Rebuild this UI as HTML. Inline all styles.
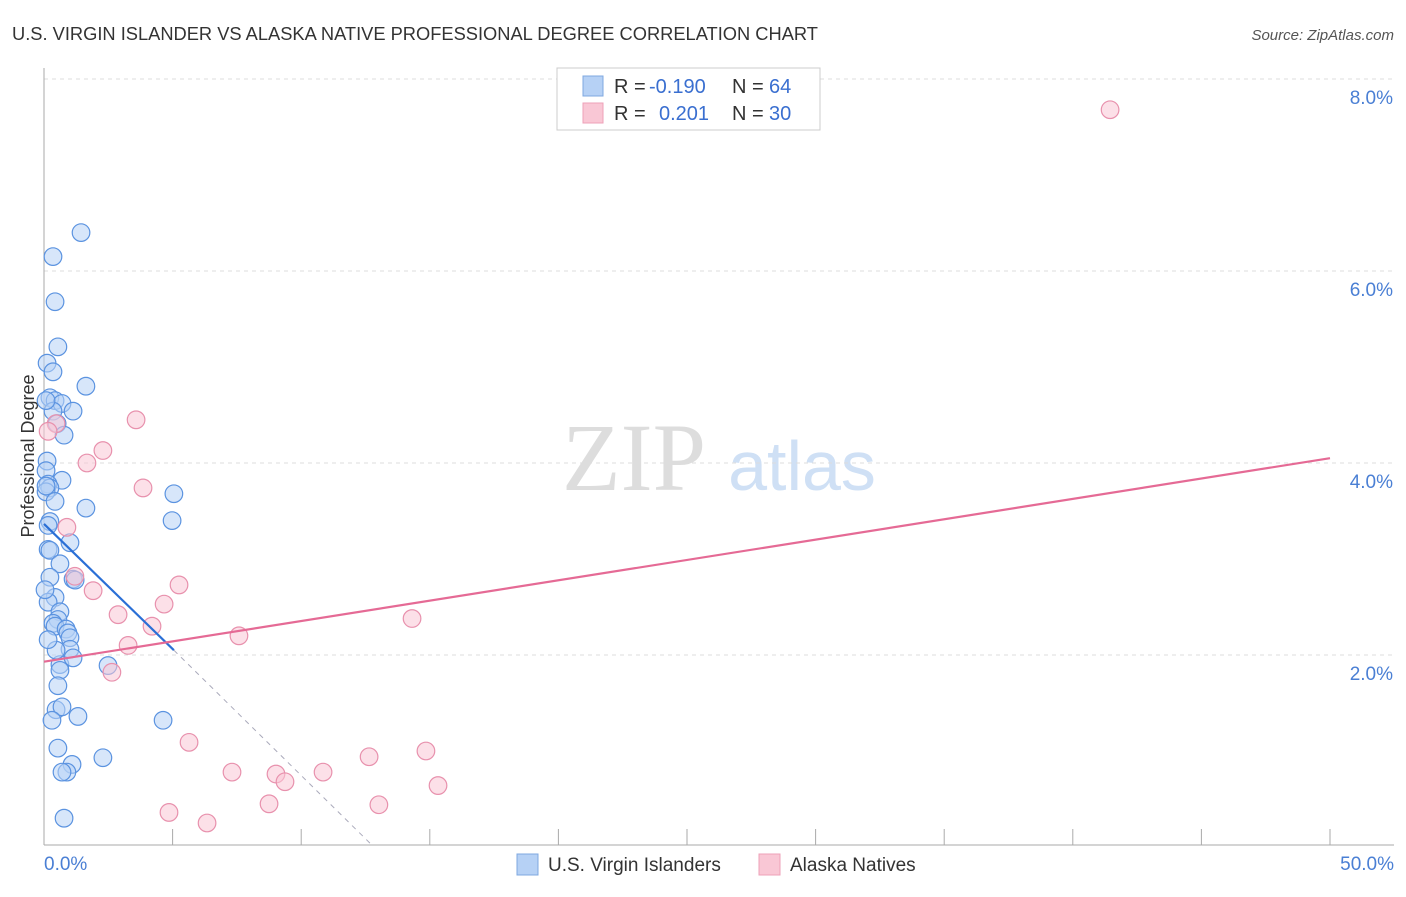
<!DOCTYPE html>
<html><head><meta charset="utf-8"><style>
body{margin:0;background:#fff;font-family:"Liberation Sans",sans-serif}
</style></head><body>
<svg id="c" width="1406" height="892" xmlns="http://www.w3.org/2000/svg" style="font-family:'Liberation Sans',sans-serif">
<text x="12" y="40" font-size="18.3" fill="#333">U.S. VIRGIN ISLANDER VS ALASKA NATIVE PROFESSIONAL DEGREE CORRELATION CHART</text>
<text x="1394" y="40" font-size="15" fill="#555" text-anchor="end" font-style="italic">Source: ZipAtlas.com</text>
<text x="34" y="456" font-size="18" fill="#333" text-anchor="middle" transform="rotate(-90 34 456)">Professional Degree</text>
<g><text x="634" y="490" font-size="96" fill="#ddd" text-anchor="middle" font-family="Liberation Serif">ZIP</text><text x="802" y="490" font-size="70" fill="#cfe0f5" text-anchor="middle">atlas</text></g>
<g id="grid"></g><g id="marks"></g>
<g font-size="20">
<rect x="557" y="68" width="263" height="62" fill="#fff" stroke="#ccc"/>
<rect x="583" y="76" width="20" height="20" fill="#b6d1f5" stroke="#7fa8e0"/>
<rect x="583" y="103" width="20" height="20" fill="#f9c7d5" stroke="#eea0b8"/>
<text x="614" y="93" fill="#333">R =</text><text x="649" y="93" fill="#3a6fd0">-0.190</text>
<text x="732" y="93" fill="#333">N =</text><text x="769" y="93" fill="#3a6fd0">64</text>
<text x="614" y="120" fill="#333">R =</text><text x="659" y="120" fill="#3a6fd0">0.201</text>
<text x="732" y="120" fill="#333">N =</text><text x="769" y="120" fill="#3a6fd0">30</text>
</g>
<g>
<rect x="517" y="854" width="21" height="21" fill="#b6d1f5" stroke="#7fa8e0"/>
<text x="548" y="871" font-size="19" fill="#333">U.S. Virgin Islanders</text>
<rect x="759" y="854" width="21" height="21" fill="#f9c7d5" stroke="#eea0b8"/>
<text x="790" y="871" font-size="19" fill="#333">Alaska Natives</text>
</g>
</svg>
<script>
const yTicks=[2,4,6,8];
const yTickLabels=["2.0%","4.0%","6.0%","8.0%"];
const xTickLabels=["0.0%","50.0%"];
const blueX=[1.44,0.35,0.43,0.54,0.12,0.35,1.63,0.23,0.43,0.70,1.13,0.35,0.51,0.78,0.12,0.08,0.70,0.16,0.23,0.08,0.43,1.63,5.05,4.98,0.23,0.16,1.01,0.16,0.23,0.62,1.13,0.23,0.43,0.16,0.62,0.54,0.35,0.43,0.86,0.93,1.01,1.01,0.62,1.13,2.49,0.62,0.54,1.32,0.47,0.70,4.63,0.54,2.29,1.09,0.89,0.70,0.78,0.08,0.08,0.47,0.16,0.31,1.21,0.04];
const blueY=[6.4,6.15,5.68,5.21,5.04,4.95,4.8,4.68,4.65,4.62,4.54,4.54,4.41,4.29,4.02,3.92,3.82,3.78,3.74,3.7,3.6,3.53,3.68,3.4,3.39,3.35,3.17,3.1,3.09,2.95,2.79,2.81,2.6,2.55,2.45,2.37,2.33,2.3,2.27,2.23,2.18,2.06,1.9,1.97,1.89,1.84,1.68,1.36,1.43,1.46,1.32,1.03,0.93,0.86,0.78,0.78,0.3,4.65,3.76,2.05,2.16,1.32,2.78,2.68];
const pinkX=[41.45,3.58,0.47,0.16,2.29,1.67,3.85,0.89,1.2,5.25,1.91,4.67,2.88,4.2,3.27,7.58,14.31,2.64,5.64,7.31,9.02,9.37,10.85,12.64,14.85,15.32,8.75,13.02,4.86,6.34];
const pinkY=[7.68,4.45,4.41,4.33,4.13,4.0,3.74,3.33,2.82,2.73,2.67,2.53,2.42,2.3,2.1,2.2,2.38,1.82,1.09,0.78,0.76,0.68,0.78,0.94,1.0,0.64,0.45,0.44,0.36,0.25];
const blueTrend=[[0,3.365],[5.05,2.05]];
const blueDash=[[5.05,2.05],[12.75,0.02]];
const pinkTrend=[[0,1.93],[50,4.05]];
const NS="http://www.w3.org/2000/svg";
const X=v=>44+v/50*1286, Y=v=>847-v*96;
const grid=document.getElementById('grid'), marks=document.getElementById('marks');
function mk(p,tag,a){const e=document.createElementNS(NS,tag);for(const k in a)e.setAttribute(k,a[k]);p.appendChild(e);return e;}
yTicks.forEach((t,i)=>{
 const l=mk(grid,'line',{x1:44,x2:1394,y1:Y(t),y2:Y(t),stroke:'#ddd','stroke-dasharray':'4 4'});
 
 
 const tx=mk(grid,'text',{x:1393,y:Y(t)+25,'font-size':19,fill:'#4a7fd4','text-anchor':'end'});tx.textContent=yTickLabels[i];
 
 
});
const ax=mk(grid,'line',{x1:44,x2:44,y1:68,y2:845,stroke:'#aaa'});


const bx=mk(grid,'line',{x1:44,x2:1394,y1:845,y2:845,stroke:'#aaa'});


for(let i=1;i<=10;i++){const t=mk(grid,'line',{x1:X(i*5),x2:X(i*5),y1:829,y2:845,stroke:'#aaa'});
 
 }
[[0,'start',44],[50,'end',1394]].forEach((d,i)=>{const t=mk(grid,'text',{x:d[2],y:870,'font-size':19,fill:'#4a7fd4','text-anchor':d[1]});t.textContent=xTickLabels[i];
 
 });
function pts(xs,ys,fill,stroke,name){xs.forEach((x,i)=>{const c=mk(marks,'circle',{cx:X(x),cy:Y(ys[i]),r:8.8,fill:fill,'fill-opacity':0.55,stroke:stroke,'stroke-width':1.2});
 
 });}
pts(blueX,blueY,'#b6d1f5','#5b93e0','virgin-islander-point');
pts(pinkX,pinkY,'#f9c7d5','#e891ad','alaska-native-point');
function ln(p,st,w,dash,name){const l=mk(marks,'line',{x1:X(p[0][0]),y1:Y(p[0][1]),x2:X(p[1][0]),y2:Y(p[1][1]),stroke:st,'stroke-width':w});if(dash)l.setAttribute('stroke-dasharray',dash);
 
 }
ln(blueDash,'#aab','1','5 5','virgin-islander-trend-extension');
ln(blueTrend,'#2a6fd6',2.2,null,'virgin-islander-trend');
ln(pinkTrend,'#e56a95',2.2,null,'alaska-native-trend');
</script>
</body></html>
